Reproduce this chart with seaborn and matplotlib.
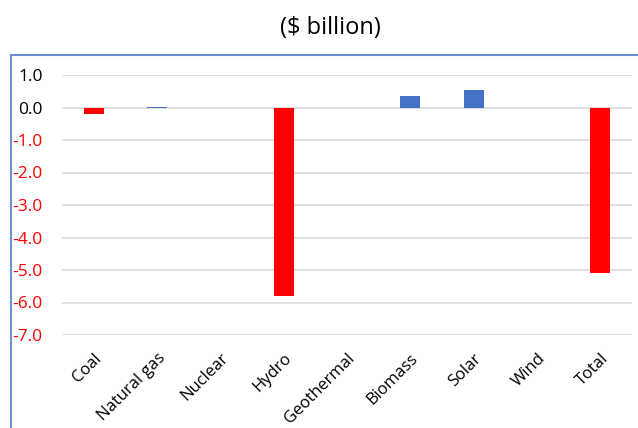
import matplotlib
matplotlib.use("Agg")
import matplotlib.pyplot as plt
import seaborn as sns
import pandas as pd
from matplotlib.patches import Rectangle

categories = ["Coal", "Natural gas", "Nuclear", "Hydro", "Geothermal",
              "Biomass", "Solar", "Wind", "Total"]
values = [-0.2, 0.02, 0.0, -5.8, 0.0, 0.35, 0.55, 0.0, -5.1]
yticks = [1.0, 0.0, -1.0, -2.0, -3.0, -4.0, -5.0, -6.0, -7.0]
title = "($ billion)"

sns.set_theme(style="white")
plt.rcParams["font.family"] = ["Open Sans", "DejaVu Sans"]

df = pd.DataFrame({"cat": categories, "val": values})
df["sign"] = ["neg" if v < 0 else "pos" for v in values]

fig = plt.figure(figsize=(6.38, 4.28), dpi=100)
ax = fig.add_axes([62/638, 1-335/428, (632-62)/638, (335-75)/428])

sns.barplot(data=df, x="cat", y="val", hue="sign", order=categories,
            palette={"neg": "#FF0000", "pos": "#4472C4"}, dodge=False,
            width=0.32, legend=False, ax=ax, saturation=1, linewidth=0)

ax.set_ylim(-7, 1)
ax.set_xlim(-0.5, len(categories) - 0.5)
ax.set_yticks(yticks)
ax.set_yticklabels([f"{t:.1f}" for t in yticks], fontsize=12.5)
for lab, t in zip(ax.get_yticklabels(), yticks):
    lab.set_color("#FF0000" if t < 0 else "#000000")
ax.yaxis.grid(True, color="#D9D9D9", linewidth=1.2)
ax.set_axisbelow(True)
ax.tick_params(axis="y", length=0, pad=14)
ax.tick_params(axis="x", length=0, pad=11, labelcolor="#000000")
ax.set_xticks(range(len(categories)))
ax.set_xticklabels(categories, rotation=45, ha="right", rotation_mode="anchor",
                   fontsize=12, color="#000000")
ax.set_xlabel("")
ax.set_ylabel("")
for s in ax.spines.values():
    s.set_visible(False)

fig.text(330/638, 1-28/428, title, ha="center", va="center", fontsize=17,
         color="#000000")

frame = Rectangle((11/638, -0.2), 1.2, 0.2 + (1-55/428), transform=fig.transFigure,
                  fill=False, edgecolor="#6F8FD4", linewidth=1.5, clip_on=False)
fig.patches.append(frame)

fig.savefig("out.png", dpi=100)
